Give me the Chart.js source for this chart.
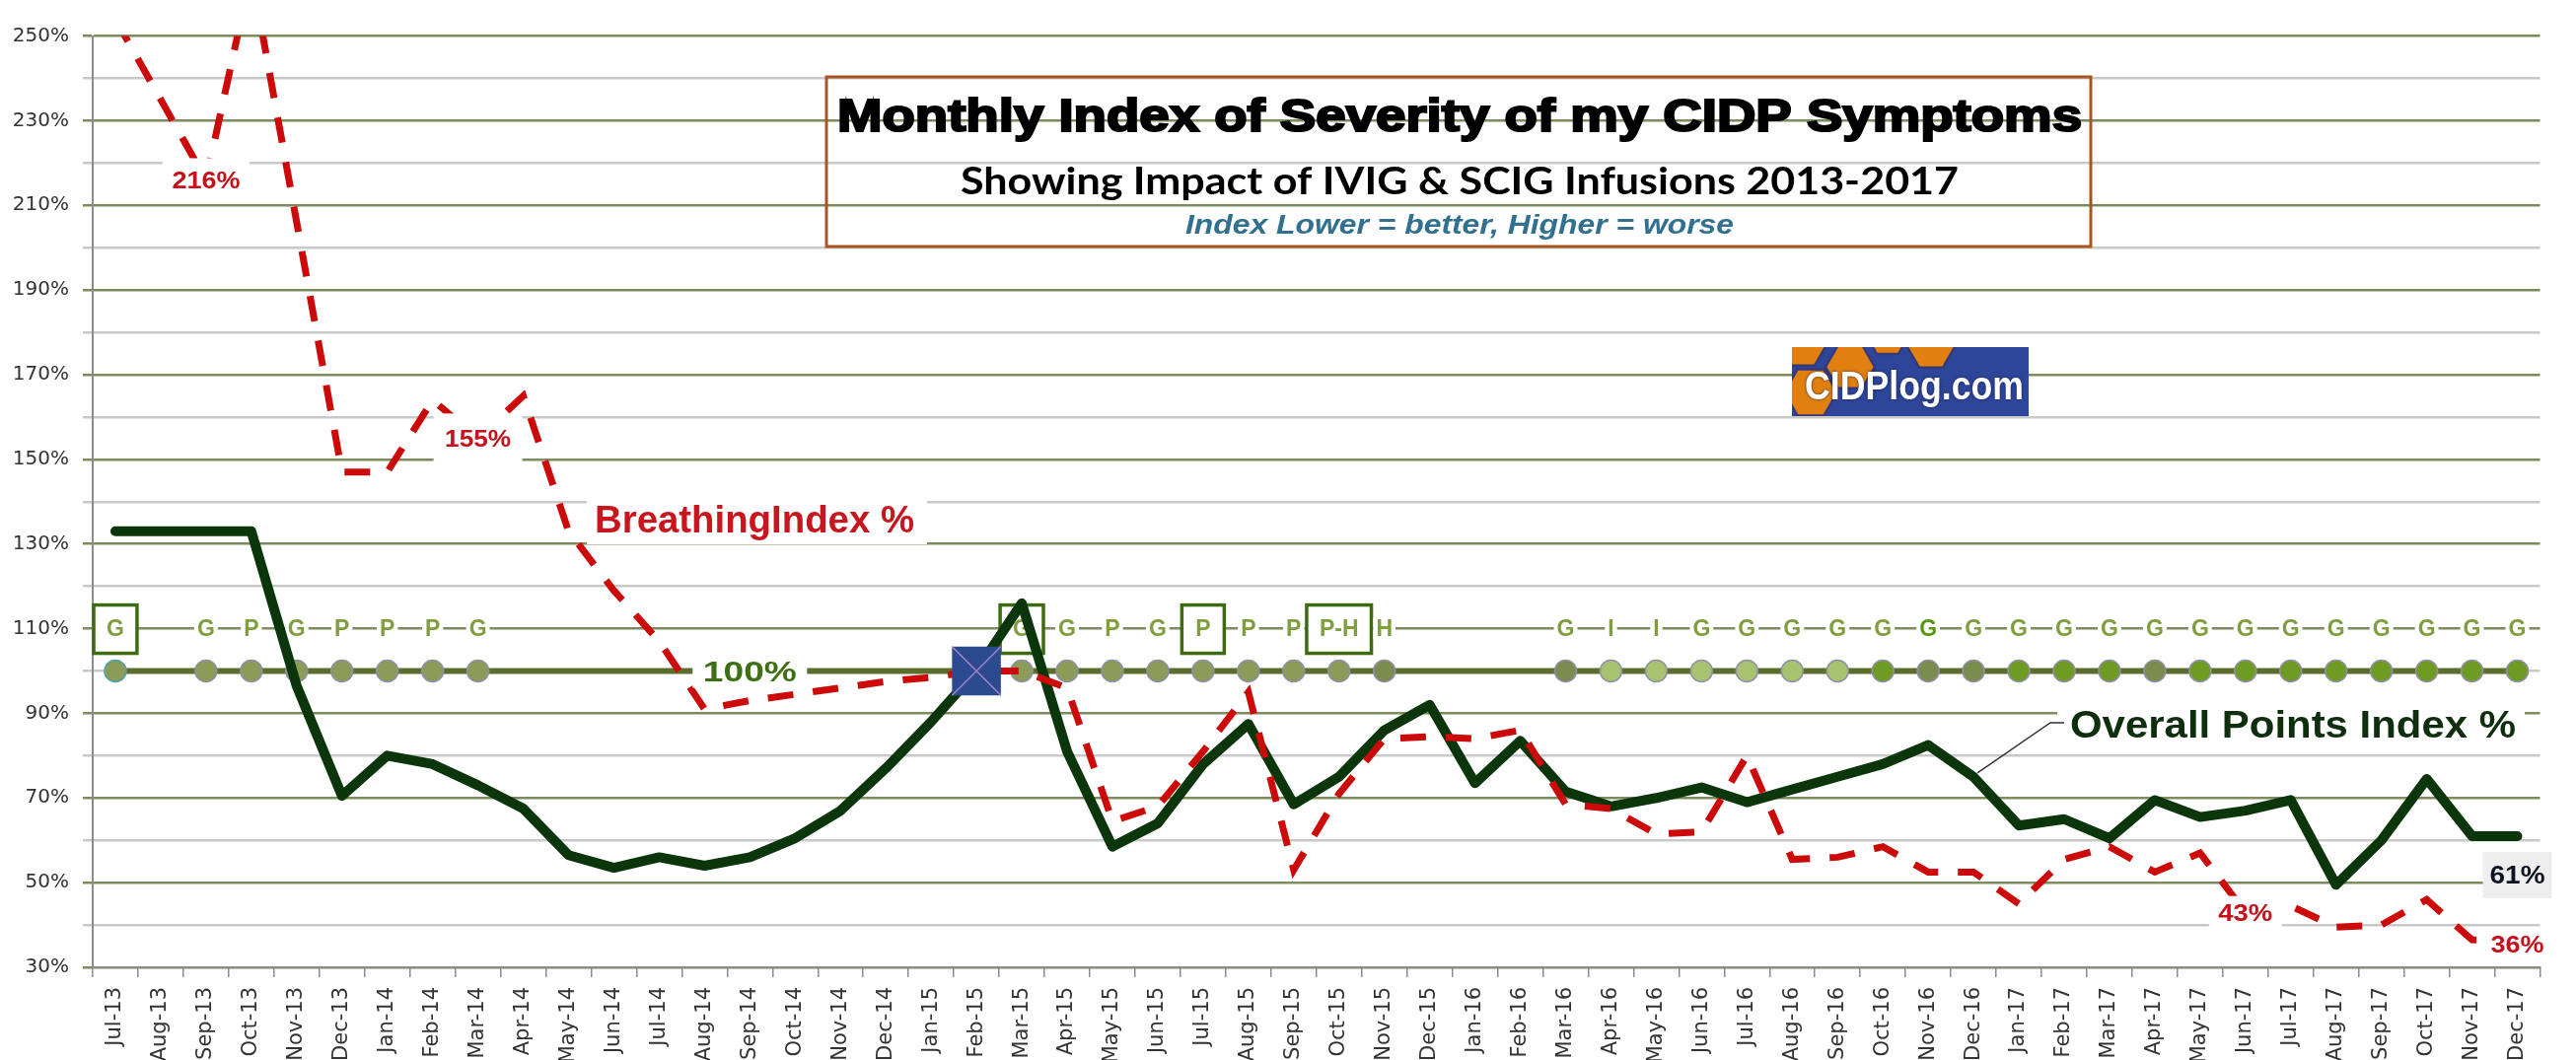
<!DOCTYPE html>
<html lang="en">
<head>
<meta charset="UTF-8">
<title>Monthly Index of Severity of my CIDP Symptoms</title>
<script src="https://cdn.jsdelivr.net/npm/chart.js@4.4.1/dist/chart.umd.min.js"></script>
<style>
  html, body { margin: 0; padding: 0; background: #fff; }
  canvas { display: block; }
</style>
</head>
<body>
<canvas id="chart" width="2612" height="1075"></canvas>
<script>
// ---- data ----
const months = ['Jul-13','Aug-13','Sep-13','Oct-13','Nov-13','Dec-13',
  'Jan-14','Feb-14','Mar-14','Apr-14','May-14','Jun-14','Jul-14','Aug-14','Sep-14','Oct-14','Nov-14','Dec-14',
  'Jan-15','Feb-15','Mar-15','Apr-15','May-15','Jun-15','Jul-15','Aug-15','Sep-15','Oct-15','Nov-15','Dec-15',
  'Jan-16','Feb-16','Mar-16','Apr-16','May-16','Jun-16','Jul-16','Aug-16','Sep-16','Oct-16','Nov-16','Dec-16',
  'Jan-17','Feb-17','Mar-17','Apr-17','May-17','Jun-17','Jul-17','Aug-17','Sep-17','Oct-17','Nov-17','Dec-17'];

const overallIndex = [133, 133, 133, 133, 96.5, 70.5,
  80, 78, 73, 67.5, 56.5, 53.5, 56, 54, 56, 60.5, 67, 77,
  88, 100, 116, 81, 58.5, 64, 78, 87.5, 68.5, 75, 86, 92,
  73.5, 83.5, 71.5, 68, 70, 72.5, 69, 72, 75, 78, 82.5, 75,
  63.5, 65, 60.5, 69.5, 65.5, 67, 69.5, 49.5, 60, 74.5, 61, 61];

const breathingIndex = [254, 235, 216, 265, 206, 147,
  147, 164, 155, 165, 133, 119, 107, 91, 93, 94.5, 96, 97.5,
  98.5, 100, 100, 96, 64.5, 68, 81, 95, 53, 71, 84, 84.5,
  84, 86, 68.5, 67.5, 61.5, 62, 80, 55.5, 56, 58.5, 52.5, 52.5,
  45, 55.5, 58.5, 52.5, 57, 43, 44.5, 39.5, 40, 46, 36.5, 36];

// the 100% reference level
const referenceLine = [100, 100, 100, 100, 100, 100,
  100, 100, 100, 100, 100, 100, 100, 100, 100, 100, 100, 100,
  100, 100, 100, 100, 100, 100, 100, 100, 100, 100, 100, 100,
  100, 100, 100, 100, 100, 100, 100, 100, 100, 100, 100, 100,
  100, 100, 100, 100, 100, 100, 100, 100, 100, 100, 100, 100];

// infusion codes shown above the 100% line ('' = no infusion that month)
const infusionCodes = ['G','','G','P','G','P',
  'P','P','G','','','','','','','','','',
  '','','G','G','P','G','P','P','P','P-H','H','',
  '','','G','I','I','G','G','G','G','G','G','G',
  'G','G','G','G','G','G','G','G','G','G','G','G'];
const boxedMonths = [0, 20, 24, 27];
const codeLevel = 110;
const markerMonth = 19;   // blue square on the breathing line

// dot shades for the infusion markers
const dotShade = ['o','','o','o','o','o',
  'o','o','o','','','','','','','','','',
  '','','o','o','o','o','o','o','o','o','d','',
  '','','d','l','l','l','l','l','l','g','d','d',
  'g','g','g','d','g','g','g','g','g','g','g','g'];
const shadeColors = { o: '#8a9c58', d: '#7b8c4f', l: '#a8c370', g: '#6e9c22' };

const yMin = 30, yMax = 250;

// ---- drawing helpers ----
function fitText(ctx, text, cx, baseline, width, font, color, strokeW) {
  ctx.save();
  ctx.font = font;
  const w = ctx.measureText(text).width;
  ctx.translate(cx, baseline);
  ctx.scale(width / w, 1);
  ctx.textAlign = 'center';
  ctx.textBaseline = 'alphabetic';
  ctx.fillStyle = color;
  ctx.fillText(text, 0, 0);
  if (strokeW) {
    ctx.strokeStyle = color;
    ctx.lineWidth = strokeW;
    ctx.strokeText(text, 0, 0);
  }
  ctx.restore();
}

function whiteBox(ctx, x, y, w, h, color) {
  ctx.save();
  ctx.fillStyle = color || '#ffffff';
  ctx.fillRect(x, y, w, h);
  ctx.restore();
}

function hexagon(ctx, cx, cy, r) {
  ctx.beginPath();
  for (let k = 0; k < 6; k++) {
    const a = Math.PI / 3 * k;
    const px = cx + r * Math.cos(a), py = cy + r * Math.sin(a);
    if (k === 0) ctx.moveTo(px, py); else ctx.lineTo(px, py);
  }
  ctx.closePath();
}

const decorations = {
  id: 'decorations',
  beforeDatasetsDraw(chart) {
    const ctx = chart.ctx;
    const xS = chart.scales.x, yS = chart.scales.y;

    // title box
    ctx.save();
    ctx.strokeStyle = '#a6561e';
    ctx.lineWidth = 3;
    ctx.strokeRect(838, 78, 1282, 172);
    ctx.restore();
    fitText(ctx, 'Monthly Index of Severity of my CIDP Symptoms', 1480, 133, 1262,
      'bold 46px "Liberation Sans"', '#000000', 2.2);
    fitText(ctx, 'Showing Impact of IVIG & SCIG Infusions 2013-2017', 1480, 197, 1012,
      'bold 38px Lato', '#000000');
    fitText(ctx, 'Index Lower = better, Higher = worse', 1480, 237, 556,
      'italic bold 28px "Liberation Sans"', '#31718f');

    // logo
    ctx.save();
    ctx.beginPath();
    ctx.rect(1817, 352, 240, 70);
    ctx.clip();
    ctx.fillStyle = '#2d469a';
    ctx.fillRect(1817, 352, 240, 70);
    ctx.fillStyle = '#e2800f';
    ctx.strokeStyle = '#34397a';
    ctx.lineWidth = 2.5;
    [[1836, 398, 27], [1828, 350, 24], [1876, 372, 25], [1914, 340, 22], [1958, 352, 24]].forEach(h => {
      hexagon(ctx, h[0], h[1], h[2]);
      ctx.fill();
      ctx.stroke();
    });
    ctx.restore();
    ctx.save();
    ctx.shadowColor = 'rgba(20,20,60,0.8)';
    ctx.shadowBlur = 3;
    fitText(ctx, 'CIDPlog.com', 1941, 405, 222, 'bold 41px "Liberation Sans"', '#ffffff');
    ctx.restore();

    // infusion codes
    const cy = yS.getPixelForValue(codeLevel);
    ctx.save();
    ctx.font = 'bold 23px "Liberation Sans"';
    ctx.textAlign = 'center';
    ctx.textBaseline = 'middle';
    infusionCodes.forEach((code, i) => {
      if (!code) return;
      const x = xS.getPixelForValue(i);
      const tw = ctx.measureText(code).width;
      ctx.fillStyle = '#ffffff';
      ctx.fillRect(x - tw / 2 - 3, cy - 11, tw + 6, 22);
      if (boxedMonths.includes(i)) {
        const bw = Math.max(43, tw + 26);
        ctx.fillRect(x - bw / 2, cy - 24, bw, 49);
        ctx.strokeStyle = '#3d6b14';
        ctx.lineWidth = 3.5;
        ctx.strokeRect(x - bw / 2, cy - 24, bw, 49);
      }
      ctx.fillStyle = i === 40 ? '#5a9614' : '#7f9f3f';
      ctx.fillText(code, x, cy + 1);
    });
    ctx.restore();
  },
  afterDatasetsDraw(chart) {
    const ctx = chart.ctx;
    const xS = chart.scales.x, yS = chart.scales.y;
    const red = '#c4111b';
    const dataLabel = (text, i, value, w, bw, bh, color, dy, bg) => {
      const x = xS.getPixelForValue(i);
      const y = yS.getPixelForValue(value) + (dy || 0);
      whiteBox(ctx, x - bw / 2, y - bh / 2, bw, bh, bg);
      fitText(ctx, text, x, y + 8.5, w, 'bold 24px "Liberation Sans"', color);
    };

    dataLabel('216%', 2, breathingIndex[2], 69, 88, 44, red);
    dataLabel('155%', 8, breathingIndex[8], 67, 90, 50, red);
    dataLabel('43%', 47, breathingIndex[47], 55, 74, 33, red);
    dataLabel('36%', 53, breathingIndex[53], 54, 70, 34, red, 2);

    // 61% with grey background
    {
      const x = xS.getPixelForValue(53);
      const y = yS.getPixelForValue(overallIndex[53]) + 40;
      whiteBox(ctx, x - 35, y - 24, 70, 47, '#eeeeee');
      fitText(ctx, '61%', x, y + 8.5, 56, 'bold 25px "Liberation Sans"', '#0c1424');
    }

    // 100% label on the reference line
    {
      const x = xS.getPixelForValue(14);
      const y = yS.getPixelForValue(referenceLine[14]);
      whiteBox(ctx, x - 58, y - 17, 116, 34);
      fitText(ctx, '100%', x, y + 11, 95, 'bold 30px "Liberation Sans"', '#3f6f14');
    }

    // series name labels
    whiteBox(ctx, 595, 505, 345, 47);
    fitText(ctx, 'BreathingIndex %', 765, 540, 324, 'bold 38px "Liberation Sans"', '#c8161e');

    whiteBox(ctx, 2086, 706, 474, 56);
    fitText(ctx, 'Overall Points Index %', 2325, 748, 452, 'bold 39px "Liberation Sans"', '#0e2f0e');
    ctx.save();
    ctx.strokeStyle = '#333333';
    ctx.lineWidth = 1.5;
    ctx.beginPath();
    ctx.moveTo(2093, 733);
    ctx.lineTo(2079, 733);
    ctx.lineTo(xS.getPixelForValue(41) + 4, yS.getPixelForValue(overallIndex[41]) - 4);
    ctx.stroke();
    ctx.restore();
  }
};

const markerData = months.map((m, i) => i === markerMonth ? breathingIndex[i] : null);

new Chart(document.getElementById('chart'), {
  type: 'line',
  data: {
    labels: months,
    datasets: [
      {
        label: 'marker cross',
        data: markerData,
        showLine: false,
        pointStyle: 'crossRot',
        pointRadius: 35,
        borderColor: '#a083c8',
        borderWidth: 1.5
      },
      {
        label: 'marker',
        data: markerData,
        showLine: false,
        pointStyle: 'rect',
        pointRadius: 35,
        backgroundColor: '#2c4b8e',
        borderColor: '#2c4b8e',
        borderWidth: 0
      },
      {
        label: 'Breathing Index %',
        data: breathingIndex,
        borderColor: '#cc0a0a',
        borderWidth: 7,
        borderDash: [26, 20],
        borderCapStyle: 'butt',
        pointRadius: 0,
        tension: 0
      },
      {
        label: 'Overall Points Index %',
        data: overallIndex,
        borderColor: '#0b360b',
        borderWidth: 10,
        borderJoinStyle: 'round',
        borderCapStyle: 'round',
        pointRadius: 0,
        tension: 0
      },
      {
        label: '100%',
        data: referenceLine,
        borderColor: '#5d6d2d',
        borderWidth: 6,
        pointRadius: ctx => infusionCodes[ctx.dataIndex] ? 11 : 0,
        pointBackgroundColor: ctx => shadeColors[dotShade[ctx.dataIndex]] || '#8a9c58',
        pointBorderColor: ctx => ctx.dataIndex === 0 ? '#4fa0b0' : '#8f8fa8',
        pointBorderWidth: 1.5,
        tension: 0
      }
    ]
  },
  options: {
    responsive: false,
    devicePixelRatio: 1,
    animation: false,
    layout: { padding: { top: 23, right: 10, left: 0, bottom: 0 } },
    plugins: { legend: { display: false }, tooltip: { enabled: false } },
    scales: {
      x: {
        offset: true,
        grid: { offset: true, drawOnChartArea: false, tickLength: 10, color: '#8c8c8c', lineWidth: 1.5 },
        border: { color: '#8c8c8c', width: 2 },
        ticks: {
          autoSkip: false, minRotation: 90, maxRotation: 90, padding: 10,
          color: '#333333', font: { family: '"DejaVu Sans"', size: 21 }
        },
        afterFit(scale) { scale.height = 94; }
      },
      y: {
        min: yMin, max: yMax,
        ticks: {
          stepSize: 10, padding: 14, color: '#333333',
          font: { family: '"DejaVu Sans"', size: 20 },
          autoSkip: false,
          callback: v => ((v - yMin) % 20 === 0 ? v + '%' : '')
        },
        grid: {
          tickLength: 10,
          lineWidth: 2.5,
          color: ctx => ((ctx.tick.value - yMin) % 20 === 0 ? '#7e8b5f' : '#c9c9c9')
        },
        border: { color: '#8c8c8c', width: 2 },
        afterFit(scale) { scale.width = 94; }
      }
    }
  },
  plugins: [decorations]
});
</script>
</body>
</html>
